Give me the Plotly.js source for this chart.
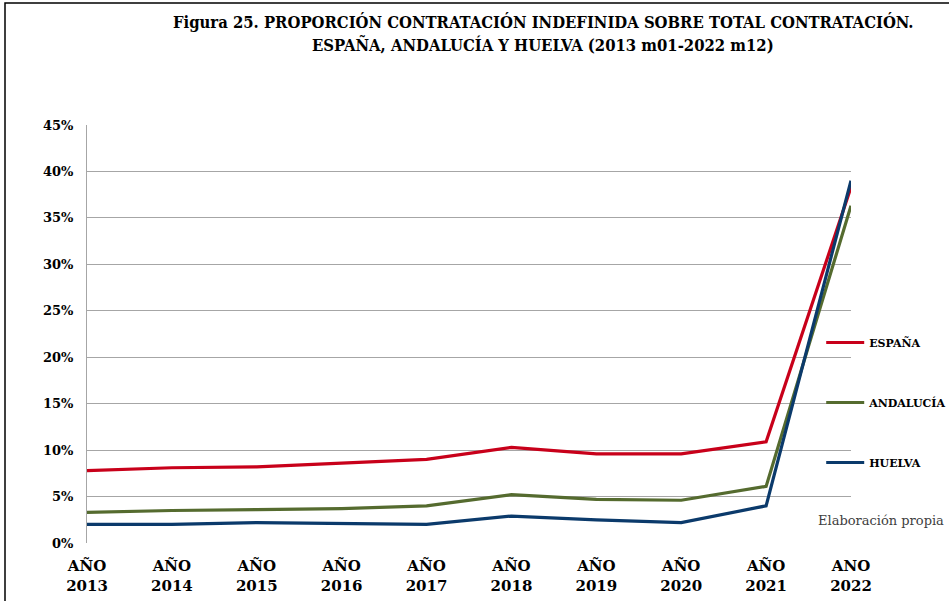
<!DOCTYPE html>
<html>
<head>
<meta charset="utf-8">
<script src="https://cdn.plot.ly/plotly-3.0.1.min.js"></script>
<style>html,body{margin:0;padding:0;background:#fff;}#chart{width:949px;height:601px;}</style>
</head>
<body>
<div id="chart"></div>
<script>
var categories = ['AÑO<br>2013','AÑO<br>2014','AÑO<br>2015','AÑO<br>2016','AÑO<br>2017','AÑO<br>2018','AÑO<br>2019','AÑO<br>2020','AÑO<br>2021','ANO<br>2022'];
var espana    = [7.8, 8.1, 8.2, 8.6, 9.0, 10.3, 9.6, 9.6, 10.9, 38.3];
var andalucia = [3.3, 3.5, 3.6, 3.7, 4.0, 5.2, 4.7, 4.6, 6.1, 36.3];
var huelva    = [2.0, 2.0, 2.2, 2.1, 2.0, 2.9, 2.5, 2.2, 4.0, 39.0];
var yTickVals = [0,5,10,15,20,25,30,35,40,45];
var yTickText = ['0%','5%','10%','15%','20%','25%','30%','35%','40%','45%'];
var titleLines = ['Figura 25. PROPORCIÓN CONTRATACIÓN INDEFINIDA SOBRE TOTAL CONTRATACIÓN.',
                  'ESPAÑA, ANDALUCÍA Y HUELVA (2013 m01-2022 m12)'];

var serif = 'DejaVu Serif';
var serifC = 'DejaVu Serif Condensed, DejaVu Serif';
function tr(name, vals, color, grp){
  return {x: categories, y: vals, name: name, type: 'scatter', mode: 'lines',
    line: {color: color, width: 3.2}, legendgroup: grp};
}
var data = [
  tr('ESPAÑA', espana, '#C8001A', 'a'),
  tr('ANDALUCÍA', andalucia, '#556B2F', 'b'),
  tr('HUELVA', huelva, '#0B3A6B', 'c')
];
var PW = 764, PH = 418, L = 87, T = 125;
function px(x){ return (x - L) / PW; }
function py(y){ return (T + PH - y) / PH; }
var layout = {
  width: 949, height: 601,
  margin: {l: 87, r: 98, t: 125, b: 58, autoexpand: false},
  paper_bgcolor: '#fff', plot_bgcolor: '#fff',
  xaxis: {type: 'category', range: [0, 9], showgrid: false, showline: false, zeroline: false,
    ticks: '', ticklabelstandoff: 12, tickfont: {family: serif, size: 15, color: '#000', weight: 'bold'}},
  yaxis: {range: [0, 45], tickvals: yTickVals, ticktext: yTickText, showgrid: true,
    gridcolor: '#a6a6a6', gridwidth: 1, zeroline: false, showline: true, linecolor: '#a6a6a6', linewidth: 1,
    ticks: '', ticklabelstandoff: 10, tickfont: {family: serif, size: 13, color: '#000', weight: 'bold'}},
  showlegend: true,
  legend: {x: 0.961, xanchor: 'left', y: py(328), yanchor: 'top', traceorder: 'grouped', tracegroupgap: 41,
    font: {family: serif, size: 11, color: '#000', weight: 'bold'}, bgcolor: 'rgba(0,0,0,0)', itemwidth: 38},
  shapes: [
    {type: 'rect', xref: 'paper', yref: 'paper', x0: px(5), x1: px(960), y0: py(610), y1: py(3),
      line: {color: '#000', width: 1.5}, layer: 'above'},
    {type: 'line', xref: 'paper', yref: 'paper', x0: px(803), x1: px(856), y0: 0, y1: 0,
      line: {color: '#fff', width: 3}, layer: 'above'}
  ],
  annotations: [
    {text: '<b>' + titleLines[0] + '</b>', xref: 'paper', yref: 'paper', x: px(543), y: py(22),
      xanchor: 'center', yanchor: 'middle', showarrow: false,
      font: {family: serifC, size: 16.5, color: '#000'}},
    {text: '<b>' + titleLines[1] + '</b>', xref: 'paper', yref: 'paper', x: px(543), y: py(45),
      xanchor: 'center', yanchor: 'middle', showarrow: false,
      font: {family: serifC, size: 16.5, color: '#000'}},
    {text: 'Elaboración propia', xref: 'paper', yref: 'paper', x: px(881), y: py(520),
      xanchor: 'center', yanchor: 'middle', showarrow: false,
      font: {family: serif, size: 13, color: '#404040'}}
  ]
};
Plotly.newPlot('chart', data, layout, {displayModeBar: false, staticPlot: true});
</script>
</body>
</html>
